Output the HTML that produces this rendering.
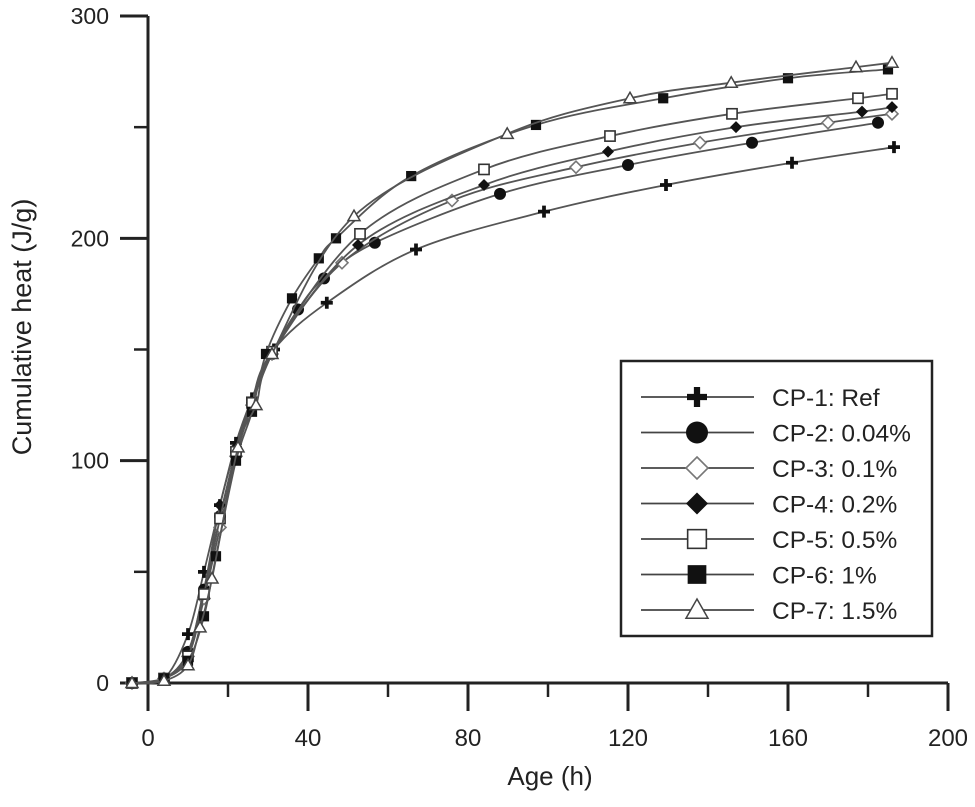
<!DOCTYPE html>
<html><head><meta charset="utf-8"><style>
html,body{margin:0;padding:0;background:#fff;}
svg{display:block;font-family:"Liberation Sans",Arial,sans-serif;}
</style></head><body>
<svg id="chart" width="975" height="807" viewBox="0 0 975 807"></svg>
<script>
const seriesNames = ["CP-1: Ref","CP-2: 0.04%","CP-3: 0.1%","CP-4: 0.2%","CP-5: 0.5%","CP-6: 1%","CP-7: 1.5%"];
const markerTypes = ["plus","circle","odiamond","diamond","osquare","square","triangle"];
const ages1 = [-4,4,10,14,18,22,26,31.5,44.7,67,99,129.5,161,186.5];
const heat1 = [0,2,22,50,80,108,128,150,171,195,212,224,234,241];
const ages2 = [-4,4,10,14,18,22,26,31,37.5,44,56.7,88,120,151,182.5];
const heat2 = [0,2,14,42,75,104,126,148,168,182,198,220,233,243,252];
const ages3 = [-4,4,10,14,18,22,26,31,48.5,76,107,138,170,186];
const heat3 = [0,2,12,38,70,102,125,148,189,217,232,243,252,256];
const ages4 = [-4,4,10,14,18,22,26,31,52.5,84,115,147,178.5,186];
const heat4 = [0,2,14,42,80,106,127,149,197,224,239,250,257,259];
const ages5 = [-4,4,10,14,18,22,26,31,53,84,115.5,146,177.5,186];
const heat5 = [0,2,12,40,74,104,126,149,202,231,246,256,263,265];
const ages6 = [-4,4,10,14,17,22,26,29.5,36,42.7,47,65.8,97,128.8,160,185];
const heat6 = [0,2,10,30,57,100,122,148,173,191,200,228,251,263,272,276];
const ages7 = [-4,4,10,13,16,22.5,27,31,51.5,89.8,120.5,145.8,177,186];
const heat7 = [0,1,8,25,47,106,125,148,210,247,263,270,277,279];
const xTicks = [0,40,80,120,160,200];
const yTicks = [0,100,200,300];

const allAges=[ages1,ages2,ages3,ages4,ages5,ages6,ages7];
const allHeat=[heat1,heat2,heat3,heat4,heat5,heat6,heat7];
const NS="http://www.w3.org/2000/svg";
const svg=document.getElementById("chart");
const X=v=>148+v*4;
const Y=v=>683-v*(667/300);
function mk(tag,attrs,parent){const e=document.createElementNS(NS,tag);for(const k in attrs)e.setAttribute(k,attrs[k]);(parent||svg).appendChild(e);return e;}

const axes=mk("g",{});


mk("line",{x1:148,y1:16,x2:148,y2:683,stroke:"#222","stroke-width":3},axes);
mk("line",{x1:120,y1:683,x2:948,y2:683,stroke:"#222","stroke-width":3},axes);
xTicks.forEach(t=>{
  mk("line",{x1:X(t),y1:683,x2:X(t),y2:711,stroke:"#222","stroke-width":3},axes);
  const tx=mk("text",{x:X(t),y:746,"text-anchor":"middle","font-size":24,fill:"#222"},axes);
  tx.textContent=t;
  
  
});
for(let t=20;t<200;t+=40) mk("line",{x1:X(t),y1:683,x2:X(t),y2:697,stroke:"#222","stroke-width":2.5},axes);
yTicks.forEach(t=>{
  mk("line",{x1:120,y1:Y(t),x2:148,y2:Y(t),stroke:"#222","stroke-width":3},axes);
  const tx=mk("text",{x:109,y:Y(t)+8,"text-anchor":"end","font-size":23,fill:"#222"},axes);
  tx.textContent=t;
  
  
});
for(let t=50;t<300;t+=100) mk("line",{x1:134,y1:Y(t),x2:148,y2:Y(t),stroke:"#222","stroke-width":2.5},axes);
const xt=mk("text",{x:550,y:785,"text-anchor":"middle","font-size":26,fill:"#222"});
xt.textContent="Age (h)";


const yt=mk("text",{x:0,y:0,"text-anchor":"middle","font-size":27,fill:"#222",transform:"translate(31,327) rotate(-90)"});
yt.textContent="Cumulative heat (J/g)";



function pathFrom(pts){
  let d=`M${pts[0][0]},${pts[0][1]}`;
  for(let i=0;i<pts.length-1;i++){
    const p0=pts[Math.max(0,i-1)],p1=pts[i],p2=pts[i+1],p3=pts[Math.min(pts.length-1,i+2)];
    const c1=[p1[0]+(p2[0]-p0[0])/6,p1[1]+(p2[1]-p0[1])/6];
    const c2=[p2[0]-(p3[0]-p1[0])/6,p2[1]-(p3[1]-p1[1])/6];
    d+=` C${c1[0]},${c1[1]} ${c2[0]},${c2[1]} ${p2[0]},${p2[1]}`;
  }
  return d;
}
function marker(type,cx,cy,s,parent){
  const h=s/2;
  if(type==="plus"){
    mk("path",{d:`M${cx-h},${cy}H${cx+h}M${cx},${cy-h}V${cy+h}`,stroke:"#111","stroke-width":s/3.2},parent);
  }else if(type==="circle"){
    mk("circle",{cx,cy,r:h,fill:"#111"},parent);
  }else if(type==="odiamond"){
    mk("path",{d:`M${cx},${cy-h}L${cx+h},${cy}L${cx},${cy+h}L${cx-h},${cy}Z`,fill:"#fff",stroke:"#777","stroke-width":1.6},parent);
  }else if(type==="diamond"){
    mk("path",{d:`M${cx},${cy-h}L${cx+h},${cy}L${cx},${cy+h}L${cx-h},${cy}Z`,fill:"#111"},parent);
  }else if(type==="osquare"){
    mk("rect",{x:cx-h*0.85,y:cy-h*0.85,width:h*1.7,height:h*1.7,fill:"#fff",stroke:"#333","stroke-width":1.6},parent);
  }else if(type==="square"){
    mk("rect",{x:cx-h*0.85,y:cy-h*0.85,width:h*1.7,height:h*1.7,fill:"#111"},parent);
  }else{
    mk("path",{d:`M${cx},${cy-h}L${cx+h},${cy+h*0.75}L${cx-h},${cy+h*0.75}Z`,fill:"#fff",stroke:"#444","stroke-width":1.5},parent);
  }
}
allAges.forEach((ages,i)=>{
  const g=mk("g",{});
  
  
  const pts=ages.map((a,j)=>[X(a),Y(allHeat[i][j])]);
  mk("path",{d:pathFrom(pts),fill:"none",stroke:"#555","stroke-width":1.8},g);
  pts.forEach(p=>marker(markerTypes[i],p[0],p[1],12,g));
});

const lg=mk("g",{});


mk("rect",{x:621,y:361,width:311,height:275,fill:"#fff",stroke:"#222","stroke-width":2.5},lg);
seriesNames.forEach((n,i)=>{
  const y=397+i*35.5;
  const e=mk("g",{},lg);
  
  
  mk("line",{x1:641,y1:y,x2:754,y2:y,stroke:"#444","stroke-width":1.8},e);
  marker(markerTypes[i],697,y,i===0?20:22,e);
  const t=mk("text",{x:772,y:y+9,"font-size":24.5,fill:"#222"},e);
  t.textContent=n;
});
</script>
</body></html>
